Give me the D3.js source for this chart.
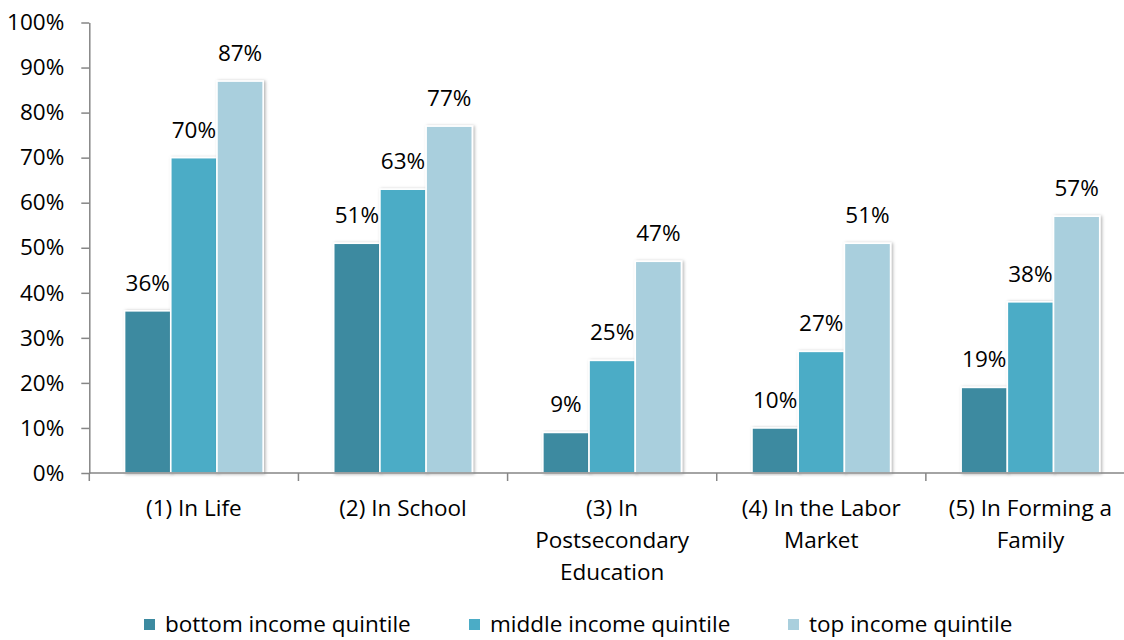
<!DOCTYPE html>
<html>
<head>
<meta charset="utf-8">
<script src="https://d3js.org/d3.v7.min.js"></script>
<style>
  body { margin: 0; background: #fff; }
  text { font-family: "Open Sans", sans-serif; fill: #000; }
</style>
</head>
<body>
<svg id="chart" width="1124" height="640"></svg>
<script>
// Share of children "on track" at each life stage, by family income quintile
const categories = [
  "(1) In Life",
  "(2) In School",
  "(3) In Postsecondary Education",
  "(4) In the Labor Market",
  "(5) In Forming a Family"
];
const seriesNames = ["bottom income quintile", "middle income quintile", "top income quintile"];
const bottomQuintile = [0.36, 0.51, 0.09, 0.10, 0.19];
const middleQuintile = [0.70, 0.63, 0.25, 0.27, 0.38];
const topQuintile    = [0.87, 0.77, 0.47, 0.51, 0.57];
const yTicks = [0, 0.1, 0.2, 0.3, 0.4, 0.5, 0.6, 0.7, 0.8, 0.9, 1.0];
const seriesColors = ["#3C8AA0", "#4BACC6", "#A9CFDD"];

const seriesValues = [bottomQuintile, middleQuintile, topQuintile];
const rows = categories.map((c, i) => ({
  category: c,
  values: seriesNames.map((s, j) => ({ series: s, value: seriesValues[j][i] }))
}));

const svg = d3.select("#chart");
const fontSize = 22.5;

// Drop shadow under the columns
const defs = svg.append("defs");
const shadow = defs.append("filter").attr("id", "colShadow")
  .attr("x", "-20%").attr("y", "-5%").attr("width", "140%").attr("height", "110%");
shadow.append("feDropShadow")
  .attr("dx", 1.5).attr("dy", 0.5).attr("stdDeviation", 1.5)
  .attr("flood-color", "#000").attr("flood-opacity", 0.3);

const x0 = d3.scaleBand().domain(categories).range([89.3, 1135]).paddingInner(0).paddingOuter(0);
const x1 = d3.scaleBand().domain(seriesNames).range([-69.3, 69.3]).padding(0);
const y = d3.scaleLinear().domain([0, 1]).range([473, 22.5]);
const color = d3.scaleOrdinal().domain(seriesNames).range(seriesColors);

// Columns
const groups = svg.append("g").selectAll("g").data(rows).join("g")
  .attr("transform", d => `translate(${x0(d.category) + x0.bandwidth() / 2},0)`);

groups.selectAll("rect").data(d => d.values).join("rect")
  .attr("x", d => x1(d.series))
  .attr("y", d => y(d.value))
  .attr("width", x1.bandwidth())
  .attr("height", d => y(0) - y(d.value))
  .attr("fill", d => color(d.series))
  .attr("stroke", "#fff")
  .attr("stroke-width", 1.6)
  .attr("filter", "url(#colShadow)");

// Value labels
groups.selectAll("text.val").data(d => d.values).join("text")
  .attr("class", "val")
  .attr("x", d => x1(d.series) + x1.bandwidth() / 2)
  .attr("y", d => y(d.value) - 20)
  .attr("text-anchor", "middle")
  .attr("font-size", fontSize)
  .text(d => d3.format(".0%")(d.value));

// Y axis
const yAxis = svg.append("g").attr("transform", "translate(89.3,0)")
  .call(d3.axisLeft(y).tickValues(yTicks).tickFormat(d3.format(".0%")).tickSize(8).tickPadding(17).tickSizeOuter(0));
yAxis.select(".domain").attr("stroke", "#868686").attr("stroke-width", 1.5);
yAxis.selectAll(".tick line").attr("stroke", "#868686").attr("stroke-width", 1.5);
yAxis.selectAll(".tick text").attr("font-size", fontSize).attr("font-family", "'Open Sans', sans-serif").attr("fill", "#000");

// X axis: line with tick marks at category boundaries
const xAxisG = svg.append("g").attr("transform", `translate(0,${y(0)})`);
xAxisG.append("line")
  .attr("x1", x0.range()[0]).attr("x2", x0.range()[1])
  .attr("stroke", "#868686").attr("stroke-width", 1.5);
const boundaries = categories.map(c => x0(c)).concat([x0.range()[1]]);
xAxisG.selectAll("line.tk").data(boundaries).join("line")
  .attr("class", "tk")
  .attr("x1", d => d).attr("x2", d => d)
  .attr("y1", 0).attr("y2", 8)
  .attr("stroke", "#868686").attr("stroke-width", 1.5);

// Category labels, wrapped to the width of a category slot
const maxLabelWidth = 195;
categories.forEach(c => {
  const cx = x0(c) + x0.bandwidth() / 2;
  const t = svg.append("text")
    .attr("text-anchor", "middle")
    .attr("font-size", fontSize)
    .attr("x", cx)
    .attr("y", 516);
  const words = c.split(" ");
  let line = [];
  let tspan = t.append("tspan").attr("x", cx).attr("dy", 0);
  words.forEach(w => {
    line.push(w);
    tspan.text(line.join(" "));
    if (tspan.node().getComputedTextLength() > maxLabelWidth && line.length > 1) {
      line.pop();
      tspan.text(line.join(" "));
      line = [w];
      tspan = t.append("tspan").attr("x", cx).attr("dy", 32).text(w);
    }
  });
});

// Legend
const legendX = [144, 469, 788];
const legend = svg.append("g").selectAll("g").data(seriesNames).join("g")
  .attr("transform", (d, i) => `translate(${legendX[i]},0)`);
legend.append("rect")
  .attr("x", 0).attr("y", 619).attr("width", 11).attr("height", 11)
  .attr("fill", d => color(d));
legend.append("text")
  .attr("x", 21).attr("y", 632)
  .attr("font-size", fontSize)
  .text(d => d);
</script>
</body>
</html>
